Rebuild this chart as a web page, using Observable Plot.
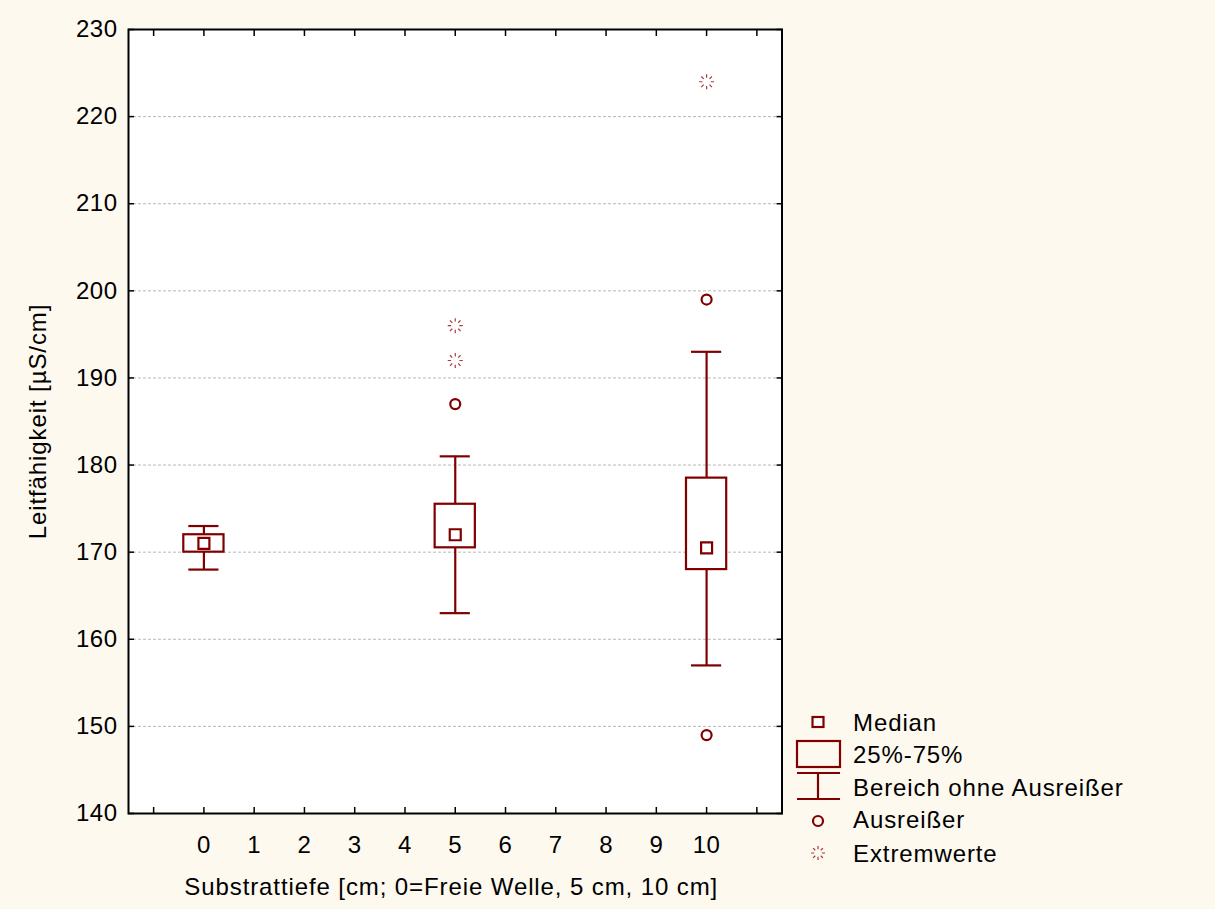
<!DOCTYPE html>
<html><head><meta charset="utf-8">
<script src="https://cdn.jsdelivr.net/npm/d3@7"></script>
<script src="https://cdn.jsdelivr.net/npm/@observablehq/plot@0.6"></script>
<style>
body{margin:0;background:#fdf9ef;}
#wrap{position:relative;width:1215px;height:909px;font-family:"Liberation Sans",Arial,sans-serif;}
#legend{position:absolute;left:780px;top:690px;}
</style></head><body><div id="wrap"></div>
<script>
// ---- data ----
const groups = [0, 5, 10];
const medians = [171, 172, 170.5];
const q25 = [170, 170.5, 168];
const q75 = [172, 175.5, 178.5];
const whiskerLow = [168, 163, 157];
const whiskerHigh = [173, 181, 193];
const outlierX = [5, 10, 10];
const outlierY = [187, 199, 149];
const extremeX = [5, 5, 10];
const extremeY = [192, 196, 224];
const xTicks = [-1, 0, 1, 2, 3, 4, 5, 6, 7, 8, 9, 10, 11];
const xTickLabels = ["", "0", "1", "2", "3", "4", "5", "6", "7", "8", "9", "10", ""];
const yTicks = [140, 150, 160, 170, 180, 190, 200, 210, 220, 230];
const yGrid = [150, 160, 170, 180, 190, 200, 210, 220];
const xTitle = "Substrattiefe [cm; 0=Freie Welle, 5 cm, 10 cm]";
const yTitle = "Leitfähigkeit [µS/cm]";
const legendLabels = ["Median", "25%-75%", "Bereich ohne Ausreißer", "Ausreißer", "Extremwerte"];

const boxes = groups.map((g, i) => ({g, med: medians[i], lo: q25[i], hi: q75[i], wl: whiskerLow[i], wh: whiskerHigh[i]}));
const outliers = outlierX.map((x, i) => ({x, y: outlierY[i]}));
const extremes = extremeX.map((x, i) => ({x, y: extremeY[i]}));

const RED = "#800000";
const XRED = "#a83a3a";
const BOXHALF = 0.4, CAPHALF = 0.3;

const burst = {
  draw(ctx, size) {
    const r = Math.sqrt(size / Math.PI);
    for (let i = 0; i < 8; i++) {
      const a = i * Math.PI / 4;
      ctx.moveTo(0.55 * r * Math.cos(a), 0.55 * r * Math.sin(a));
      ctx.lineTo(r * Math.cos(a), r * Math.sin(a));
    }
  }
};

const chart = Plot.plot({
  width: 1215, height: 909,
  marginLeft: 128, marginRight: 433.5, marginTop: 29, marginBottom: 96,
  style: {fontFamily: '"Liberation Sans", Arial, sans-serif', fontSize: "24px", background: "transparent", color: "black"},
  x: {domain: [-1.5, 11.5]},
  y: {domain: [140, 230]},
  marks: [
    Plot.frame({fill: "white"}),
    Plot.gridY(yGrid, {stroke: "#b8b8b8", strokeOpacity: 1, strokeDasharray: "3,2"}),
    Plot.ruleX(boxes, {x: "g", y1: "wl", y2: "wh", stroke: RED, strokeWidth: 2.2}),
    Plot.ruleY(boxes, {y: "wl", x1: d => d.g - CAPHALF, x2: d => d.g + CAPHALF, stroke: RED, strokeWidth: 2.2}),
    Plot.ruleY(boxes, {y: "wh", x1: d => d.g - CAPHALF, x2: d => d.g + CAPHALF, stroke: RED, strokeWidth: 2.2}),
    Plot.rect(boxes, {x1: d => d.g - BOXHALF, x2: d => d.g + BOXHALF, y1: "lo", y2: "hi", fill: "white", stroke: RED, strokeWidth: 2.2}),
    Plot.dot(boxes, {x: "g", y: "med", symbol: "square", r: 6.2, fill: "white", stroke: RED, strokeWidth: 2.2}),
    Plot.dot(outliers, {x: "x", y: "y", r: 5, fill: "white", stroke: RED, strokeWidth: 2.2}),
    Plot.dot(extremes, {x: "x", y: "y", symbol: burst, r: 7.5, stroke: XRED, strokeWidth: 1.2}),
    Plot.frame({stroke: "black", strokeWidth: 2}),
    // inward ticks
    Plot.axisY(yTicks, {anchor: "left", tickSize: 6, dx: 6, tickFormat: () => "", label: null, strokeWidth: 1.5}),
    Plot.axisY(yTicks, {anchor: "right", tickSize: 6, dx: -6, tickFormat: () => "", label: null, strokeWidth: 1.5}),
    Plot.axisX(xTicks, {anchor: "bottom", tickSize: 6, dy: -6, tickFormat: () => "", label: null, strokeWidth: 1.5}),
    Plot.axisX(xTicks, {anchor: "top", tickSize: 6, dy: 6, tickFormat: () => "", label: null, strokeWidth: 1.5}),
    // labels
    Plot.axisY(yTicks, {anchor: "left", tickSize: 0, tickPadding: 11, label: null, fontSize: 24, tickFormat: d => String(d)}),
    Plot.axisX(xTicks, {anchor: "bottom", tickSize: 0, tickPadding: 22, label: null, fontSize: 24, tickFormat: d => xTickLabels[xTicks.indexOf(d)]}),
    Plot.text([xTitle], {text: d => d, frameAnchor: "bottom", dy: 74, dx: -4, fontSize: 24, textAnchor: "middle", lineAnchor: "middle"}),
    Plot.text([yTitle], {text: d => d, frameAnchor: "left", dx: -90, rotate: -90, fontSize: 24, textAnchor: "middle", lineAnchor: "middle"})
  ]
});
chart.querySelectorAll("text").forEach(t => { t.style.letterSpacing = "0.5px"; });
chart.querySelectorAll("g[aria-label='text'] text").forEach(t => { t.style.letterSpacing = "0.9px"; });
document.getElementById("wrap").appendChild(chart);

// ---- legend ----
const lg = d3.select("#wrap").append("svg").attr("id", "legend").attr("width", 435).attr("height", 200)
  .style("font-family", '"Liberation Sans", Arial, sans-serif').style("font-size", "24px");
const cx = 38;
const baselines = [41, 73, 106, 138, 172];
lg.append("rect").attr("x", cx - 5.5).attr("y", 27).attr("width", 11).attr("height", 10).attr("fill", "white").attr("stroke", RED).attr("stroke-width", 2.2);
lg.append("rect").attr("x", 17).attr("y", 51).attr("width", 43).attr("height", 26).attr("fill", "none").attr("stroke", RED).attr("stroke-width", 2.2);
lg.append("line").attr("x1", 17).attr("x2", 60).attr("y1", 83).attr("y2", 83).attr("stroke", RED).attr("stroke-width", 2.2);
lg.append("line").attr("x1", 17).attr("x2", 60).attr("y1", 109).attr("y2", 109).attr("stroke", RED).attr("stroke-width", 2.2);
lg.append("line").attr("x1", cx).attr("x2", cx).attr("y1", 83).attr("y2", 109).attr("stroke", RED).attr("stroke-width", 2.2);
lg.append("circle").attr("cx", cx).attr("cy", 131).attr("r", 5).attr("fill", "none").attr("stroke", RED).attr("stroke-width", 2.2);
const bp = d3.path(); burst.draw(bp, 7 * 7 * Math.PI);
lg.append("path").attr("d", bp.toString()).attr("transform", `translate(${cx},163)`).attr("stroke", XRED).attr("stroke-width", 1.2).attr("fill", "none");
lg.selectAll("text.l").data(legendLabels).join("text").attr("class", "l")
  .attr("x", 73).attr("y", (d, i) => baselines[i]).attr("letter-spacing", 0.9).text(d => d);
</script></body></html>
